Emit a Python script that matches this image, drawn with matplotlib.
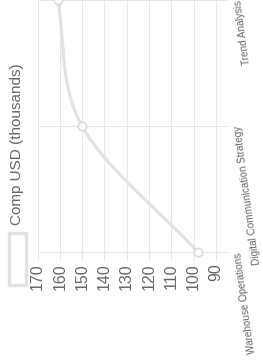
import numpy as np
import matplotlib
matplotlib.use("Agg")
import matplotlib.pyplot as plt
from matplotlib.patches import Rectangle

# data
categories = ["Warehouse Operations", "Digital Communication Strategy", "Trend Analysis"]
comp_usd = [98, 150, 161]
value_ticks = [170, 160, 150, 140, 130, 120, 110, 100, 90]
series_label = "Comp USD (thousands)"

GRID = "#e6e6e6"
LINE = "#e2e2e2"
TEXT = "#666666"

plt.rcParams["font.family"] = ["Liberation Sans", "DejaVu Sans"]


def monotone_curve(y, steps=60):
    # Chart.js style monotone cubic interpolation
    y = np.asarray(y, dtype=float)
    n = len(y)
    delta = np.diff(y)
    m = np.zeros(n)
    m[0] = delta[0]
    m[-1] = delta[-1]
    for i in range(1, n - 1):
        if delta[i - 1] * delta[i] <= 0:
            m[i] = 0
        else:
            m[i] = (delta[i - 1] + delta[i]) / 2
    for i in range(n - 1):
        if delta[i] == 0:
            m[i] = m[i + 1] = 0
            continue
        a = m[i] / delta[i]
        b = m[i + 1] / delta[i]
        s = a * a + b * b
        if s > 9:
            tau = 3 / np.sqrt(s)
            m[i] = tau * a * delta[i]
            m[i + 1] = tau * b * delta[i]
    xs, ys = [], []
    for i in range(n - 1):
        t = np.linspace(0, 1, steps)
        h00 = 2 * t**3 - 3 * t**2 + 1
        h10 = t**3 - 2 * t**2 + t
        h01 = -2 * t**3 + 3 * t**2
        h11 = t**3 - t**2
        xs.append(i + t)
        ys.append(h00 * y[i] + h10 * m[i] + h01 * y[i + 1] + h11 * m[i + 1])
    return np.concatenate(xs), np.concatenate(ys)


fig = plt.figure(figsize=(2.63, 3.6), dpi=100)
W, H = 263, 360
ax = fig.add_axes([37.5 / W, (H - 252.3) / H, (216 - 37.5) / W, 252.3 / H])

pos = np.arange(len(categories))
cx, cy = monotone_curve(comp_usd)
ax.plot(cy, cx, color=LINE, lw=2.3, solid_capstyle="round", zorder=3)
ax.plot(comp_usd, pos, linestyle="none", marker="o", markersize=6,
        markerfacecolor="white", markeredgecolor="#dadada", markeredgewidth=1.1,
        clip_on=False, zorder=4)

ax.set_xlim(170, 90)
ax.set_ylim(0, 252.3 / 126.6)

ax.set_xticks(value_ticks)
ax.set_xticklabels([str(v) for v in value_ticks], rotation=90, fontsize=11.5, color=TEXT)
ax.tick_params(axis="x", direction="out", length=6.1, width=0.75, color=GRID, pad=1.8)

ax.yaxis.tick_right()
ax.set_yticks(pos)
ax.set_yticklabels(categories, fontsize=7.2, color=TEXT, rotation=97.8,
                   rotation_mode="anchor", ha="right", va="center")
ax.tick_params(axis="y", direction="out", length=7.7, width=0.75, color=GRID, pad=8.1)

ax.grid(True, color=GRID, lw=0.75, zorder=0)
for side in ["left", "bottom", "right"]:
    ax.spines[side].set_color(GRID)
    ax.spines[side].set_linewidth(0.75)
ax.spines["top"].set_visible(False)

# legend drawn as in the source chart: box plus rotated label
fig.patches.append(Rectangle((8.8 / W, (H - 284.5) / H), 16.8 / W, 52 / H,
                             transform=fig.transFigure, facecolor="white",
                             edgecolor=LINE, lw=2.4))
fig.text(17.5 / W, (H - 225) / H, series_label, rotation=90, ha="center", va="bottom",
         fontsize=11, color=TEXT)

fig.savefig("out.png", dpi=100)
